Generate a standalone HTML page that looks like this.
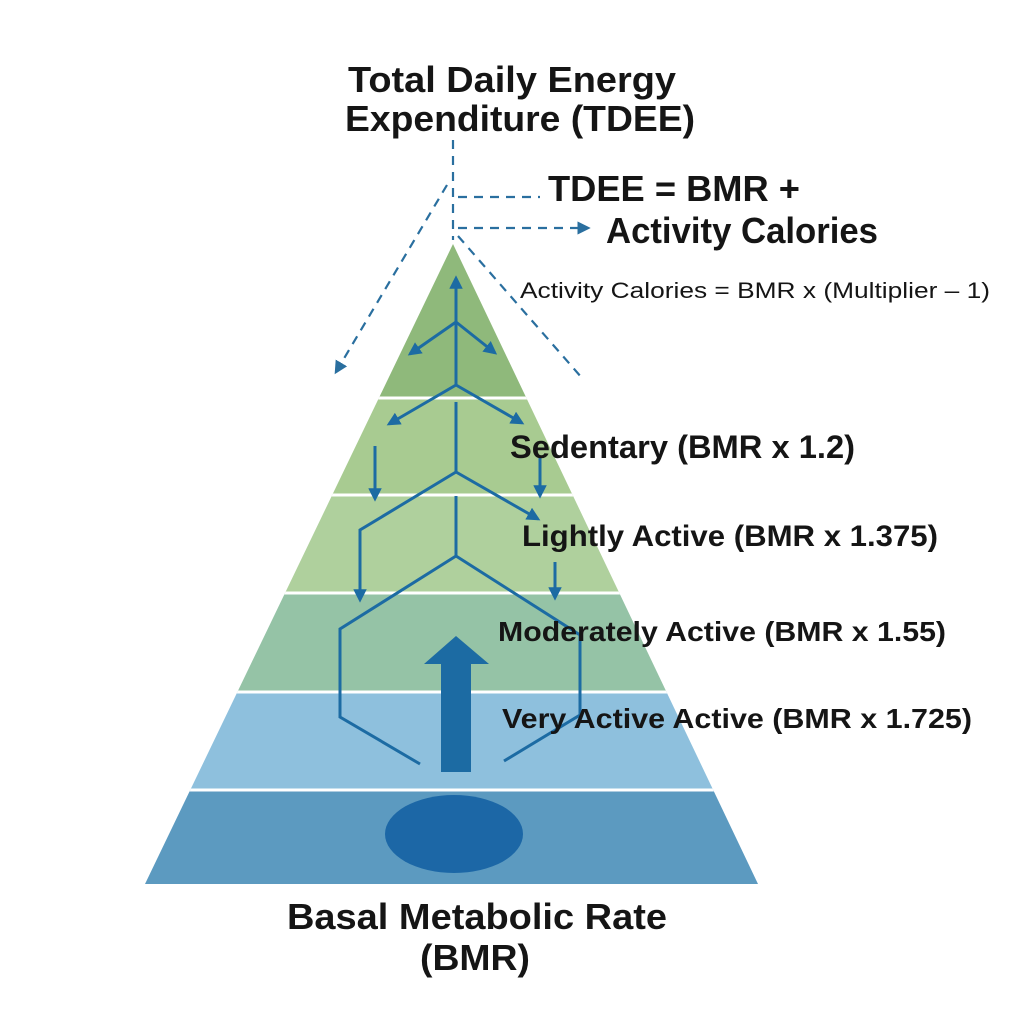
<!DOCTYPE html>
<html><head><meta charset="utf-8"><style>html,body{margin:0;padding:0;background:#fff}svg{display:block}</style></head>
<body>
<svg width="1024" height="1024" viewBox="0 0 1024 1024" xmlns="http://www.w3.org/2000/svg" font-family="'Liberation Sans', sans-serif" font-weight="bold">
<defs>
<clipPath id="tri"><polygon points="453,244 145,884 758,884"/></clipPath>
<marker id="ah" viewBox="0 0 10 10" refX="8" refY="5" markerWidth="4.5" markerHeight="4.5" orient="auto"><path d="M0,0 L10,5 L0,10 z" fill="#1c6ba3"/></marker>
<marker id="dh" viewBox="0 0 10 10" refX="8" refY="5" markerWidth="6" markerHeight="6" orient="auto"><path d="M0,0 L10,5 L0,10 z" fill="#2a6f9f"/></marker>
</defs>
<rect width="1024" height="1024" fill="#fff"/>
<g clip-path="url(#tri)">
<rect x="0" y="240" width="1024" height="158" fill="#8fb97b"/>
<rect x="0" y="398" width="1024" height="97" fill="#a8cb91"/>
<rect x="0" y="495" width="1024" height="98" fill="#afd09d"/>
<rect x="0" y="593" width="1024" height="99" fill="#95c3a6"/>
<rect x="0" y="692" width="1024" height="98" fill="#8ec0dd"/>
<rect x="0" y="790" width="1024" height="94" fill="#5c9ac0"/>
<g stroke="#fff" stroke-width="3">
<line x1="0" y1="398" x2="1024" y2="398"/><line x1="0" y1="495" x2="1024" y2="495"/>
<line x1="0" y1="593" x2="1024" y2="593"/><line x1="0" y1="692" x2="1024" y2="692"/>
<line x1="0" y1="790" x2="1024" y2="790"/>
</g>
</g>
<!-- dashed lines -->
<g stroke="#2a6f9f" stroke-width="2.2" stroke-dasharray="9,7" fill="none">
<line x1="453" y1="140" x2="453" y2="240"/>
<line x1="447" y1="185" x2="336" y2="372" marker-end="url(#dh)"/>
<line x1="458" y1="236" x2="582" y2="378"/>
<line x1="458" y1="197" x2="540" y2="197"/>
<line x1="458" y1="228" x2="588" y2="228" marker-end="url(#dh)"/>
</g>
<!-- blue arrows -->
<g stroke="#1c6ba3" stroke-width="3" fill="none" stroke-linejoin="miter">
<line x1="456" y1="385" x2="456" y2="278" marker-end="url(#ah)"/>
<line x1="456" y1="322" x2="410" y2="354" marker-end="url(#ah)"/>
<line x1="456" y1="322" x2="495" y2="353" marker-end="url(#ah)"/>
<line x1="456" y1="385" x2="389" y2="424" marker-end="url(#ah)"/>
<line x1="456" y1="385" x2="522" y2="423" marker-end="url(#ah)"/>
<line x1="456" y1="402" x2="456" y2="472"/>
<line x1="375" y1="446" x2="375" y2="499" marker-end="url(#ah)"/>
<line x1="540" y1="457" x2="540" y2="496" marker-end="url(#ah)"/>
<polyline points="456,472 360,530 360,600" marker-end="url(#ah)"/>
<line x1="456" y1="472" x2="538" y2="519" marker-end="url(#ah)"/>
<line x1="555" y1="562" x2="555" y2="598" marker-end="url(#ah)"/>
<line x1="456" y1="496" x2="456" y2="556"/>
<polyline points="420,764 340,717 340,629 456,556 580,635 580,715 504,761"/>
</g>
<polygon points="456,636 489,664 471,664 471,772 441,772 441,664 424,664" fill="#1c6ba3"/>
<ellipse cx="454" cy="834" rx="69" ry="39" fill="#1c67a6"/>
<!-- text -->
<g fill="#151515">
<text x="348" y="92" font-size="36" textLength="328" lengthAdjust="spacingAndGlyphs">Total Daily Energy</text>
<text x="345" y="131" font-size="36" textLength="350" lengthAdjust="spacingAndGlyphs">Expenditure (TDEE)</text>
<text x="548" y="201" font-size="36" textLength="252" lengthAdjust="spacingAndGlyphs">TDEE = BMR +</text>
<text x="606" y="243" font-size="36" textLength="272" lengthAdjust="spacingAndGlyphs">Activity Calories</text>
<text x="520" y="298" font-size="22" font-weight="normal" textLength="470" lengthAdjust="spacingAndGlyphs">Activity Calories = BMR x (Multiplier – 1)</text>
<text x="510" y="458" font-size="32" textLength="345" lengthAdjust="spacingAndGlyphs">Sedentary (BMR x 1.2)</text>
<text x="522" y="546" font-size="30" textLength="416" lengthAdjust="spacingAndGlyphs">Lightly Active (BMR x 1.375)</text>
<text x="498" y="641" font-size="28" textLength="448" lengthAdjust="spacingAndGlyphs">Moderately Active (BMR x 1.55)</text>
<text x="502" y="728" font-size="28" textLength="470" lengthAdjust="spacingAndGlyphs">Very Active Active (BMR x 1.725)</text>
<text x="287" y="929" font-size="36" textLength="380" lengthAdjust="spacingAndGlyphs">Basal Metabolic Rate</text>
<text x="420" y="970" font-size="36" textLength="110" lengthAdjust="spacingAndGlyphs">(BMR)</text>
</g>
</svg>
</body></html>
